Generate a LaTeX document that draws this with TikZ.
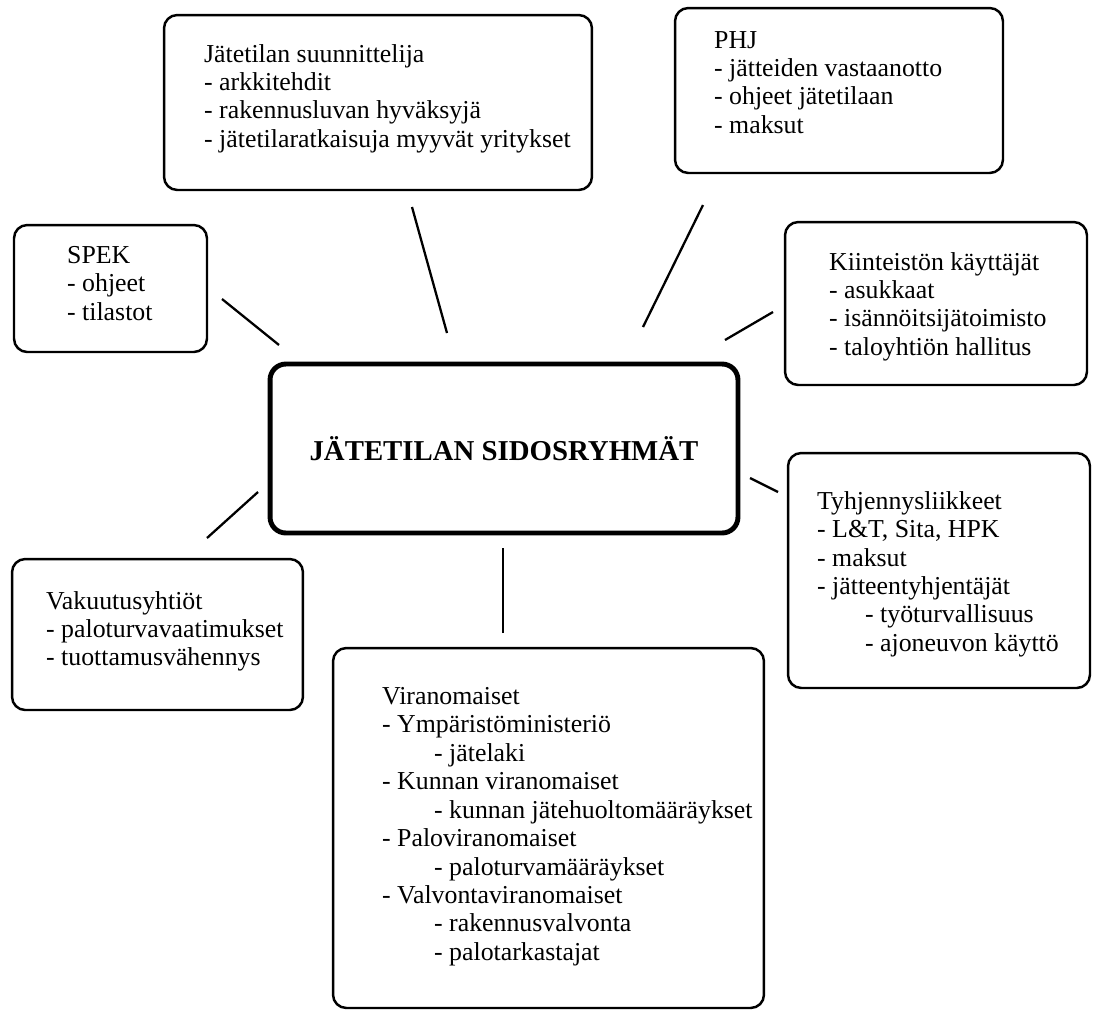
\documentclass[tikz,border=0pt]{standalone}
\usepackage{fontspec}
\setmainfont{Liberation Serif}

\begin{document}
\begin{tikzpicture}[x=0.02cm, y=-0.02cm,
                        box/.style={draw, line width=1.4pt, rounded corners=7.5pt, inner sep=0pt},
                        hub/.style={draw, line width=2.8pt, rounded corners=9pt, inner sep=0pt, font=\fontsize{16.4}{19}\selectfont\bfseries},
                        txt/.style={align=left, inner sep=0pt, anchor=north west, font=\fontsize{14.7}{16.2}\selectfont},
                        link/.style={line width=1.3pt}]
        \useasboundingbox (0,0) rectangle (1095,1012);
        \node[hub, minimum width=9.36cm, minimum height=3.38cm] (hub) at (504,448.5) {JÄTETILAN SIDOSRYHMÄT};
        \node[box, minimum width=8.56cm, minimum height=3.5cm] (suunn) at (378,102.5) {};
        \node[box, minimum width=6.56cm, minimum height=3.3cm] (phj) at (839,90.5) {};
        \node[box, minimum width=3.86cm, minimum height=2.54cm] (spek) at (110.5,288.5) {};
        \node[box, minimum width=6.04cm, minimum height=3.26cm] (kiint) at (936,303.5) {};
        \node[box, minimum width=6.04cm, minimum height=4.7cm] (tyhj) at (939,570.5) {};
        \node[box, minimum width=5.82cm, minimum height=3.02cm] (vakuu) at (157.5,634.5) {};
        \node[box, minimum width=8.62cm, minimum height=7.2cm] (viran) at (548.5,828) {};
        \node[txt] (suunn-t) at ([shift={(41,30)}]suunn.north west) {Jätetilan suunnittelija\\- arkkitehdit\\- rakennusluvan hyväksyjä\\- jätetilaratkaisuja myyvät yritykset};
        \node[txt] (phj-t) at ([shift={(40,24)}]phj.north west) {PHJ\\- jätteiden vastaanotto\\- ohjeet jätetilaan\\- maksut};
        \node[txt] (spek-t) at ([shift={(54,22)}]spek.north west) {SPEK\\- ohjeet\\- tilastot};
        \node[txt] (kiint-t) at ([shift={(45,31)}]kiint.north west) {Kiinteistön käyttäjät\\- asukkaat\\- isännöitsijätoimisto\\- taloyhtiön hallitus};
        \node[txt] (tyhj-t) at ([shift={(30,39)}]tyhj.north west) {Tyhjennysliikkeet\\- L\&T, Sita, HPK\\- maksut\\- jätteentyhjentäjät\\\hspace*{0.96cm}- työturvallisuus\\\hspace*{0.96cm}- ajoneuvon käyttö};
        \node[txt] (vakuu-t) at ([shift={(35,33)}]vakuu.north west) {Vakuutusyhtiöt\\- paloturvavaatimukset\\- tuottamusvähennys};
        \node[txt] (viran-t) at ([shift={(50,40)}]viran.north west) {Viranomaiset\\- Ympäristöministeriö\\\hspace*{1.04cm}- jätelaki\\- Kunnan viranomaiset\\\hspace*{1.04cm}- kunnan jätehuoltomääräykset\\- Paloviranomaiset\\\hspace*{1.04cm}- paloturvamääräykset\\- Valvontaviranomaiset\\\hspace*{1.04cm}- rakennusvalvonta\\\hspace*{1.04cm}- palotarkastajat};
        % loose connector ends
        \coordinate (spek-a) at (222,299);  \coordinate (spek-b) at (279,345);
        \coordinate (suunn-a) at (412,207); \coordinate (suunn-b) at (447,333);
        \coordinate (phj-a) at (703,205);   \coordinate (phj-b) at (643,327);
        \coordinate (kiint-a) at (773,312); \coordinate (kiint-b) at (725,340);
        \coordinate (tyhj-a) at (778,492);  \coordinate (tyhj-b) at (750,478);
        \coordinate (vakuu-a) at (207,538); \coordinate (vakuu-b) at (258,492);
        \coordinate (viran-a) at (503,633); \coordinate (viran-b) at (503,548);
        \draw[link] (spek-a) -- (spek-b);
        \draw[link] (suunn-a) -- (suunn-b);
        \draw[link] (phj-a) -- (phj-b);
        \draw[link] (kiint-a) -- (kiint-b);
        \draw[link] (tyhj-a) -- (tyhj-b);
        \draw[link] (vakuu-a) -- (vakuu-b);
        \draw[link] (viran-a) -- (viran-b);
    \end{tikzpicture}
\end{document}
